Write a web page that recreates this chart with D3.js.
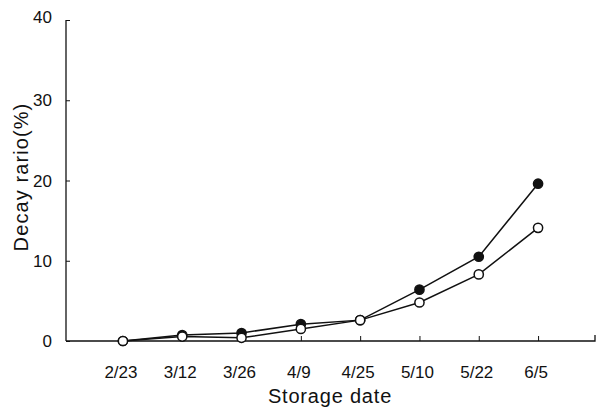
<!DOCTYPE html>
<html>
<head>
<meta charset="utf-8">
<script src="https://cdn.jsdelivr.net/npm/d3@7"></script>
<style>
  body { margin: 0; background: #fff; }
  text { font-family: "Liberation Sans", Arial, sans-serif; fill: #111; }
</style>
</head>
<body>
<script>
// storage dates on the x axis
var dates = ["2/23", "3/12", "3/26", "4/9", "4/25", "5/10", "5/22", "6/5"];
// decay ratio (%), filled markers
var filledVals = [0, 0.75, 1.0, 2.1, 2.6, 6.4, 10.5, 19.6];
// decay ratio (%), open markers
var openVals = [0, 0.55, 0.4, 1.5, 2.6, 4.8, 8.3, 14.1];
var yTicks = [0, 10, 20, 30, 40];

var W = 597, H = 410;
var plot = { left: 66, right: 595, top: 20, bottom: 341 };

var svg = d3.select("body").append("svg")
    .attr("width", W)
    .attr("height", H);

var x = d3.scalePoint()
    .domain(dates)
    .range([plot.left, plot.right])
    .padding(0.96);

var y = d3.scaleLinear()
    .domain([0, 40])
    .range([plot.bottom, plot.top]);

// y axis, ticks pointing inward
var yAxis = svg.append("g")
    .attr("transform", "translate(" + plot.left + ",0)")
    .call(d3.axisRight(y).tickValues(yTicks).tickSize(4).tickFormat(""));
yAxis.select(".domain").attr("d", "M0," + plot.top + "V" + plot.bottom);
yAxis.selectAll("line").attr("stroke", "#111");
yAxis.selectAll("path").attr("stroke", "#111").attr("stroke-width", 1.3);

svg.append("g").selectAll("text")
    .data(yTicks)
    .enter().append("text")
    .attr("x", 52)
    .attr("y", function (d) { return d == 40 ? y(d) - 3 : y(d); })
    .attr("dy", "0.36em")
    .attr("text-anchor", "end")
    .attr("font-size", 17)
    .text(function (d) { return d; });

// x axis, ticks pointing up
var xAxis = svg.append("g")
    .attr("transform", "translate(0," + plot.bottom + ")")
    .call(d3.axisTop(x).tickSize(5).tickFormat(""));
xAxis.select(".domain").attr("d", "M" + plot.left + ",0H" + plot.right + "V-6");
xAxis.selectAll("line").attr("stroke", "#111");
xAxis.selectAll("path").attr("stroke", "#111").attr("stroke-width", 1.3);

svg.append("g").selectAll("text")
    .data(dates)
    .enter().append("text")
    .attr("x", function (d) { return x(d) - 2; })
    .attr("y", 378)
    .attr("text-anchor", "middle")
    .attr("font-size", 17)
    .text(function (d) { return d; });

svg.append("text")
    .attr("x", 330)
    .attr("y", 403)
    .attr("text-anchor", "middle")
    .attr("font-size", 20)
    .attr("letter-spacing", 0.8)
    .text("Storage date");

svg.append("text")
    .attr("transform", "translate(28,177) rotate(-90)")
    .attr("text-anchor", "middle")
    .attr("font-size", 20)
    .attr("letter-spacing", 1.1)
    .text("Decay rario(%)");

var line = d3.line()
    .x(function (d, i) { return x(dates[i]); })
    .y(function (d) { return y(d); });

var series = [
    { vals: filledVals, fill: "#111" },
    { vals: openVals, fill: "#fff" }
];

series.forEach(function (s) {
    svg.append("path")
        .datum(s.vals)
        .attr("d", line)
        .attr("fill", "none")
        .attr("stroke", "#111")
        .attr("stroke-width", 1.5);
});

series.forEach(function (s) {
    svg.append("g").selectAll("circle")
        .data(s.vals)
        .enter().append("circle")
        .attr("cx", function (d, i) { return x(dates[i]); })
        .attr("cy", function (d) { return y(d); })
        .attr("r", 4.6)
        .attr("fill", s.fill)
        .attr("stroke", "#111")
        .attr("stroke-width", 1.5);
});
</script>
</body>
</html>
